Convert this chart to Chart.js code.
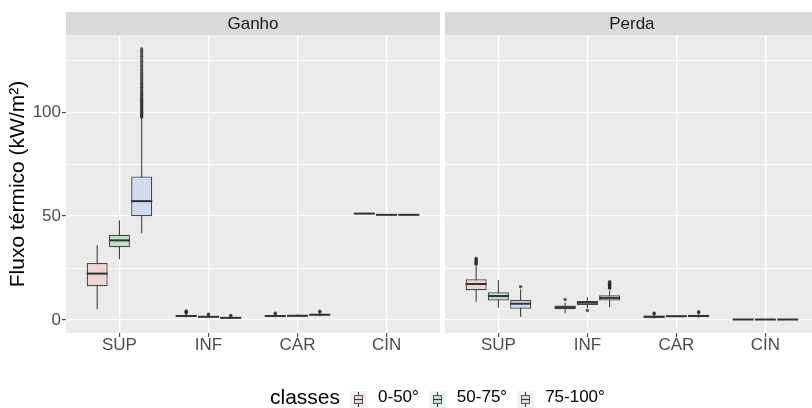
<!DOCTYPE html>
<html>
<head>
<meta charset="utf-8">
<script src="https://cdn.jsdelivr.net/npm/chart.js@4/dist/chart.umd.min.js"></script>
<style>
  html, body { margin: 0; padding: 0; background: #ffffff; }
  #wrap { position: relative; width: 812px; height: 408px; overflow: hidden; background: #ffffff;
          font-family: 'Liberation Sans', Arial, sans-serif; }
  #ganho { position: absolute; left: 0; top: 0; }
  #perda { position: absolute; left: 445px; top: 0; }
  #legend { position: absolute; left: 270px; top: 386px; height: 22px; display: flex; align-items: center; }
  #legend .title { font-size: 21px; color: #000; margin-right: 10px; line-height: 22px; }
  #legend .key { position: relative; width: 17px; height: 17px; background: #F2F2F2; margin-right: 11px; margin-top: 4px; }
  #legend .key .wh { position: absolute; left: 8px; top: 1px; width: 1px; height: 15px; background: #333; }
  #legend .key .bx { position: absolute; left: 4px; top: 4px; width: 7px; height: 7px; border: 1px solid #555; }
  #legend .key .md { position: absolute; left: 4px; top: 8px; width: 9px; height: 1px; background: #333; }
  #legend .lab { font-size: 17px; color: #000; margin-right: 10px; line-height: 22px; }
</style>
</head>
<body>
<div id="wrap">
  <canvas id="ganho" width="440" height="408"></canvas>
  <canvas id="perda" width="367" height="408"></canvas>
  <div id="legend"></div>
</div>
<script>
// ---- data -------------------------------------------------------------
const categories = ['SUP', 'INF', 'CAR', 'CIN'];
const classes = ['0-50°', '50-75°', '75-100°'];
const facets = ['Ganho', 'Perda'];
const yTicks = [0, 25, 50, 75, 100, 125];
const yTitle = 'Fluxo térmico (kW/m²)';
const legendTitle = 'classes';

// five-number summaries per category: [lower whisker, Q1, median, Q3, upper whisker]
const ganho_0_50  = [[5.1, 16.2, 22.3, 27.4, 36.0], [1.2, 1.6, 1.9, 2.2, 2.8], [1.3, 1.6, 1.9, 2.2, 2.6], [51.0, 51.1, 51.2, 51.3, 51.4]];
const ganho_50_75 = [[29.2, 35.0, 38.3, 41.0, 48.0], [1.0, 1.3, 1.5, 1.8, 2.2], [1.4, 1.7, 2.0, 2.4, 2.7], [50.4, 50.5, 50.6, 50.7, 50.8]];
const ganho_75_100 = [[41.7, 49.9, 57.2, 69.1, 97.0], [0.6, 0.8, 1.0, 1.3, 1.7], [1.8, 2.1, 2.5, 2.9, 3.4], [50.4, 50.5, 50.6, 50.7, 50.8]];

const perda_0_50  = [[8.8, 14.3, 17.3, 19.6, 26.0], [3.2, 5.1, 6.1, 7.0, 8.3], [0.6, 1.1, 1.5, 2.1, 2.6], [0.1, 0.15, 0.2, 0.25, 0.3]];
const perda_50_75 = [[5.9, 9.3, 11.5, 13.3, 19.2], [5.6, 7.2, 8.3, 9.1, 10.9], [1.5, 1.6, 1.8, 1.9, 2.1], [0.1, 0.15, 0.2, 0.25, 0.3]];
const perda_75_100 = [[1.4, 5.4, 7.8, 9.6, 14.7], [6.1, 9.3, 10.6, 11.9, 14.1], [1.0, 1.4, 1.9, 2.5, 3.0], [0.1, 0.15, 0.2, 0.25, 0.3]];

// outliers per category
const ganhoOut_0_50  = [[], [3.3, 3.7, 4.0, 4.3], [2.9, 3.2], []];
const ganhoOut_50_75 = [[], [2.5, 2.8], [], []];
const ganhoOut_75_100 = [[97.6, 98.2, 98.8, 99.4, 100.0, 100.7, 101.3, 102.0, 102.6, 103.4, 104.1, 104.8, 105.6, 106.3,
  107.1, 107.9, 108.7, 109.5, 110.3, 111.2, 112.0, 112.9, 113.8, 114.7, 115.7, 116.7, 117.7, 118.8, 119.9, 121.0,
  122.2, 123.4, 124.6, 125.8, 127.0, 128.2, 129.4, 130.5], [1.9, 2.2], [3.8, 4.2], []];

const perdaOut_0_50  = [[26.8, 27.3, 27.8, 28.3, 28.8, 29.3, 29.6], [9.8], [3.0, 3.2], []];
const perdaOut_50_75 = [[], [4.5], [], []];
const perdaOut_75_100 = [[16.0], [15.2, 15.6, 16.0, 16.4, 16.8, 17.2, 17.6, 18.0, 18.4], [3.6, 3.9], []];

// ---- styling ----------------------------------------------------------
const FONT = "'Liberation Sans', Arial, sans-serif";
const boxFill = ['#EED4D2', '#BCE1C7', '#CFDBEF'];
const PANEL_BG = '#EBEBEB';
const STRIP_BG = '#D9D9D9';
const STRIP_H = 23;
const CAT_PCT = 0.75;      // dodge width shared by the three classes
const BAR_PCT = 0.944;
const DODGE = CAT_PCT / classes.length;
const X_MIN = 0.4, X_FULL_MAX = 4.6;

Chart.defaults.font.family = FONT;
Chart.defaults.animation = false;

// panel background, strip header and median lines
const facetPlugin = {
  id: 'facetPanel',
  beforeDraw(chart, args, opts) {
    const { ctx, chartArea: a } = chart;
    const xs = chart.scales.x;
    ctx.save();
    ctx.fillStyle = PANEL_BG;
    ctx.fillRect(a.left, a.top, a.right - a.left, a.bottom - a.top);
    ctx.fillStyle = STRIP_BG;
    ctx.fillRect(a.left, a.top - STRIP_H, a.right - a.left, STRIP_H);
    ctx.fillStyle = '#1A1A1A';
    ctx.font = '17px ' + FONT;
    ctx.textAlign = 'center';
    ctx.textBaseline = 'middle';
    const mid = xs.getPixelForValue((X_MIN + X_FULL_MAX) / 2);
    ctx.fillText(opts.title, mid, a.top - STRIP_H / 2 + 1);
    ctx.restore();
  },
  afterDatasetsDraw(chart) {
    const { ctx } = chart;
    const ys = chart.scales.y;
    const a = chart.chartArea;
    ctx.save();
    ctx.beginPath();
    ctx.rect(a.left, a.top, a.right - a.left, a.bottom - a.top);
    ctx.clip();
    ctx.strokeStyle = '#333333';
    ctx.lineWidth = 2;
    chart.data.datasets.forEach((ds, i) => {
      if (!ds.medians) return;
      const meta = chart.getDatasetMeta(i);
      meta.data.forEach((el, j) => {
        const y = ys.getPixelForValue(ds.medians[j]);
        ctx.beginPath();
        ctx.moveTo(el.x - el.width / 2, y);
        ctx.lineTo(el.x + el.width / 2, y);
        ctx.stroke();
      });
    });
    ctx.restore();
  }
};

function buildDatasets(stats, outs) {
  const boxes = [], whiskers = [], points = [];
  stats.forEach((cls, k) => {
    boxes.push({
      type: 'bar', label: classes[k], stack: 'c' + k, order: 0,
      data: cls.map((s, i) => ({ x: i + 1, y: [s[1], s[3]] })),
      medians: cls.map(s => s[2]),
      backgroundColor: boxFill[k], borderColor: '#474747', borderWidth: 1.3, borderSkipped: false,
      categoryPercentage: CAT_PCT, barPercentage: BAR_PCT
    });
    whiskers.push({
      type: 'bar', label: classes[k] + ' whisker', stack: 'c' + k, order: 1,
      data: cls.map((s, i) => ({ x: i + 1, y: [s[0], s[4]] })),
      backgroundColor: '#333333', borderWidth: 0,
      categoryPercentage: CAT_PCT, barPercentage: BAR_PCT, maxBarThickness: 1
    });
    const pts = [];
    outs[k].forEach((vals, i) => vals.forEach(v => pts.push({ x: i + 1 + (k - 1) * DODGE, y: v })));
    points.push({
      type: 'scatter', label: classes[k] + ' outliers', order: -1, data: pts,
      pointRadius: 1.7, pointHoverRadius: 0, pointBackgroundColor: 'rgba(40,40,40,0.75)', pointBorderWidth: 0
    });
  });
  return boxes.concat(whiskers, points);
}

function yScale(showAxis) {
  return {
    type: 'linear', min: -6.3, max: 137.2, stacked: false,
    afterBuildTicks: s => { s.ticks = yTicks.map(v => ({ value: v })); },
    afterFit: s => { s.width = showAxis ? 66 : 0; },
    border: { display: false },
    grid: {
      color: '#FFFFFF',
      lineWidth: c => (c.tick && c.tick.value % 50 === 0) ? 1.3 : 0.7,
      drawTicks: showAxis, tickLength: 4, tickWidth: 1,
      tickColor: c => (c.tick && c.tick.value % 50 === 0) ? '#333333' : 'rgba(0,0,0,0)'
    },
    ticks: {
      display: showAxis, padding: 1, color: '#4D4D4D', font: { size: 17 },
      callback: v => (v % 50 === 0 ? String(v) : '')
    },
    title: {
      display: showAxis, text: yTitle, color: '#000000', font: { size: 21 },
      padding: { top: 6, bottom: 0 }
    }
  };
}

function xScale(maxVal) {
  return {
    type: 'linear', min: X_MIN, max: maxVal, stacked: true, offset: false,
    afterBuildTicks: s => { s.ticks = categories.map((c, i) => ({ value: i + 1 })); },
    afterFit: s => { s.height = 75; },
    border: { display: false },
    grid: { offset: false, color: '#FFFFFF', lineWidth: 1.3, drawTicks: true, tickLength: 4, tickWidth: 1, tickColor: '#333333' },
    ticks: {
      padding: -1.5, color: '#4D4D4D', font: { size: 17 }, maxRotation: 0, autoSkip: false,
      callback: v => categories[v - 1]
    }
  };
}

function makeChart(id, title, stats, outs, showAxis, maxVal) {
  return new Chart(document.getElementById(id), {
    type: 'bar',
    data: { datasets: buildDatasets(stats, outs) },
    options: {
      responsive: false,
      layout: { autoPadding: false, padding: { top: 35, left: 0, right: 0, bottom: 0 } },
      scales: { x: xScale(maxVal), y: yScale(showAxis) },
      plugins: { legend: { display: false }, tooltip: { enabled: false }, facetPanel: { title } }
    },
    plugins: [facetPlugin]
  });
}

makeChart('ganho', facets[0], [ganho_0_50, ganho_50_75, ganho_75_100],
  [ganhoOut_0_50, ganhoOut_50_75, ganhoOut_75_100], true, X_FULL_MAX);
makeChart('perda', facets[1], [perda_0_50, perda_50_75, perda_75_100],
  [perdaOut_0_50, perdaOut_50_75, perdaOut_75_100], false, 4.524);

// legend
const legend = document.getElementById('legend');
const t = document.createElement('span');
t.className = 'title'; t.textContent = legendTitle;
legend.appendChild(t);
classes.forEach((c, k) => {
  const key = document.createElement('div');
  key.className = 'key';
  key.innerHTML = '<div class="wh"></div><div class="bx" style="background:' + boxFill[k] + '"></div><div class="md"></div>';
  legend.appendChild(key);
  const lab = document.createElement('span');
  lab.className = 'lab'; lab.textContent = c;
  legend.appendChild(lab);
});
</script>
</body>
</html>
